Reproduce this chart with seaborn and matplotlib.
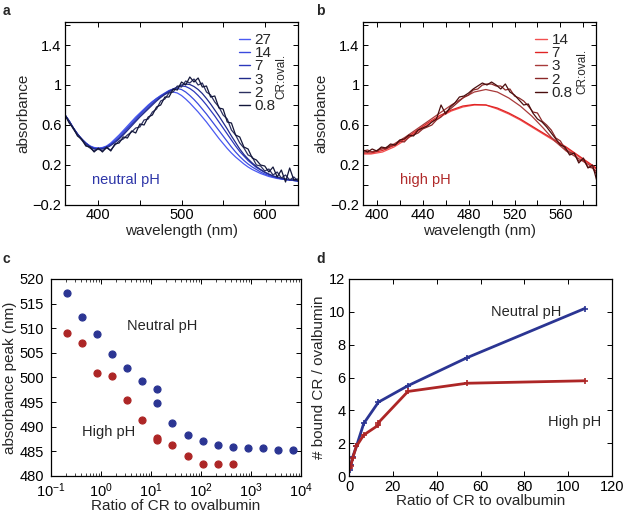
import numpy as np
import pandas as pd
import matplotlib
matplotlib.use("Agg")
import matplotlib.pyplot as plt
import seaborn as sns
from matplotlib.lines import Line2D

sns.set_theme(style="ticks")
plt.rcParams['font.family'] = ['Liberation Sans', 'DejaVu Sans']
plt.rcParams['axes.unicode_minus'] = True
plt.rcParams['mathtext.fontset'] = 'custom'
plt.rcParams['mathtext.rm'] = 'Liberation Sans'
plt.rcParams['mathtext.it'] = 'Liberation Sans'

# ---------------- panel a data (neutral pH spectra) ----------------
wl_a = [360, 365, 370, 375, 380, 385, 390, 395, 400, 405, 410, 415, 420, 425, 430, 435,
        440, 445, 450, 455, 460, 465, 470, 475, 480, 485, 490, 495, 500, 505, 510, 515,
        520, 525, 530, 535, 540, 545, 550, 555, 560, 565, 570, 575, 580, 585, 590, 595,
        600, 605, 610, 615, 620, 625, 630, 635, 640]
a_27 = [0.70, 0.64, 0.57, 0.51, 0.46, 0.42, 0.39, 0.375, 0.37, 0.375, 0.39, 0.42, 0.46, 0.50, 0.545, 0.59,
        0.635, 0.68, 0.72, 0.76, 0.80, 0.835, 0.865, 0.89, 0.91, 0.925, 0.93, 0.92, 0.895, 0.86, 0.82, 0.775,
        0.73, 0.68, 0.63, 0.575, 0.52, 0.465, 0.415, 0.365, 0.32, 0.28, 0.245, 0.21, 0.18, 0.155, 0.135, 0.115,
        0.10, 0.085, 0.075, 0.065, 0.06, 0.055, 0.05, 0.045, 0.04]
a_14 = [0.70, 0.64, 0.57, 0.51, 0.46, 0.42, 0.39, 0.37, 0.365, 0.37, 0.385, 0.41, 0.445, 0.485, 0.53, 0.575,
        0.62, 0.665, 0.71, 0.75, 0.79, 0.83, 0.865, 0.895, 0.92, 0.945, 0.96, 0.965, 0.955, 0.93, 0.895, 0.855,
        0.81, 0.76, 0.71, 0.655, 0.60, 0.545, 0.49, 0.435, 0.38, 0.33, 0.285, 0.245, 0.21, 0.18, 0.155, 0.13,
        0.11, 0.095, 0.08, 0.07, 0.06, 0.055, 0.05, 0.045, 0.04]
a_7 = [0.70, 0.64, 0.57, 0.51, 0.46, 0.42, 0.385, 0.365, 0.36, 0.365, 0.38, 0.405, 0.435, 0.47, 0.515, 0.56,
       0.605, 0.65, 0.695, 0.735, 0.775, 0.815, 0.85, 0.885, 0.915, 0.94, 0.96, 0.98, 0.99, 0.985, 0.965, 0.935,
       0.895, 0.85, 0.80, 0.745, 0.69, 0.63, 0.57, 0.51, 0.45, 0.39, 0.335, 0.29, 0.245, 0.21, 0.175, 0.15,
       0.125, 0.105, 0.09, 0.075, 0.065, 0.055, 0.05, 0.045, 0.04]
a_3 = [0.70, 0.64, 0.57, 0.51, 0.46, 0.415, 0.38, 0.36, 0.355, 0.36, 0.37, 0.395, 0.425, 0.46, 0.50, 0.545,
       0.59, 0.635, 0.68, 0.72, 0.76, 0.80, 0.84, 0.875, 0.905, 0.93, 0.955, 0.98, 1.0, 1.01, 1.005, 0.985,
       0.955, 0.915, 0.865, 0.81, 0.75, 0.69, 0.625, 0.56, 0.49, 0.425, 0.36, 0.305, 0.26, 0.22, 0.185, 0.155,
       0.13, 0.11, 0.09, 0.08, 0.07, 0.06, 0.055, 0.05, 0.045]
a_2 = [0.70, 0.63, 0.56, 0.50, 0.45, 0.40, 0.37, 0.34, 0.36, 0.34, 0.37, 0.35, 0.40, 0.44, 0.46, 0.50,
       0.53, 0.57, 0.58, 0.65, 0.66, 0.73, 0.76, 0.84, 0.86, 0.92, 0.93, 0.99, 0.98, 1.04, 1.02, 1.06,
       1.00, 1.02, 0.93, 0.90, 0.83, 0.78, 0.70, 0.66, 0.55, 0.50, 0.42, 0.37, 0.30, 0.28, 0.20, 0.19,
       0.14, 0.16, 0.10, 0.13, 0.07, 0.10, 0.05, 0.08, 0.04]
a_08 = [0.70, 0.62, 0.57, 0.49, 0.46, 0.39, 0.38, 0.33, 0.37, 0.33, 0.38, 0.34, 0.41, 0.42, 0.48, 0.47,
        0.54, 0.52, 0.61, 0.60, 0.68, 0.70, 0.78, 0.80, 0.88, 0.88, 0.96, 0.95, 1.03, 1.00, 1.08, 1.03,
        1.07, 0.98, 0.99, 0.88, 0.89, 0.77, 0.76, 0.63, 0.62, 0.50, 0.48, 0.38, 0.36, 0.27, 0.25, 0.20,
        0.19, 0.13, 0.18, 0.08, 0.15, 0.03, 0.17, 0.05, 0.06]
a_labels = ['27', '14', '7', '3', '2', '0.8']
a_colors = ['#4a5af2', '#3a4ade', '#2c38bc', '#202a8a', '#2c3060', '#12163a']

# ---------------- panel b data (high pH spectra) ----------------
wl_b_smooth = [385, 395, 405, 415, 425, 435, 445, 455, 465, 475, 485, 495, 505, 515, 525, 535,
               545, 555, 565, 575, 585, 595]
b_14 = [0.31, 0.31, 0.33, 0.38, 0.45, 0.53, 0.61, 0.68, 0.74, 0.78, 0.80, 0.80, 0.76, 0.71, 0.65, 0.58,
        0.51, 0.44, 0.37, 0.29, 0.21, 0.13]
b_7 = [0.32, 0.32, 0.345, 0.395, 0.465, 0.545, 0.625, 0.695, 0.75, 0.79, 0.805, 0.80, 0.77, 0.72, 0.66, 0.59,
       0.52, 0.45, 0.38, 0.30, 0.22, 0.14]
b_3 = [0.33, 0.33, 0.36, 0.41, 0.48, 0.56, 0.64, 0.72, 0.80, 0.87, 0.93, 0.955, 0.93, 0.87, 0.79, 0.69,
       0.57, 0.44, 0.34, 0.27, 0.20, 0.10]
wl_b_noisy = [388, 392, 396, 400, 404, 408, 412, 416, 420, 424, 428, 432, 436, 440, 444, 448,
              452, 456, 460, 464, 468, 472, 476, 480, 484, 488, 492, 496, 500, 504, 508, 512,
              516, 520, 524, 528, 532, 536, 540, 544, 548, 552, 556, 560, 564, 568, 572, 576,
              580, 584, 588, 592]
b_2 = [0.34, 0.35, 0.33, 0.34, 0.37, 0.36, 0.39, 0.40, 0.44, 0.43, 0.48, 0.50, 0.52, 0.56, 0.58, 0.60,
       0.65, 0.68, 0.73, 0.76, 0.80, 0.84, 0.88, 0.90, 0.95, 0.96, 1.00, 1.01, 1.01, 0.99, 0.99, 0.95,
       0.96, 0.89, 0.87, 0.84, 0.79, 0.73, 0.72, 0.64, 0.60, 0.55, 0.47, 0.44, 0.36, 0.33, 0.31, 0.24,
       0.25, 0.18, 0.17, 0.10]
b_08 = [0.35, 0.33, 0.36, 0.34, 0.38, 0.37, 0.41, 0.40, 0.45, 0.46, 0.50, 0.49, 0.55, 0.57, 0.59, 0.63,
        0.66, 0.80, 0.71, 0.78, 0.82, 0.88, 0.89, 0.92, 0.96, 0.99, 1.02, 1.00, 1.03, 1.00, 0.96, 1.01,
        0.93, 0.90, 0.85, 0.80, 0.81, 0.72, 0.66, 0.63, 0.58, 0.52, 0.46, 0.40, 0.38, 0.30, 0.32, 0.22,
        0.27, 0.17, 0.20, 0.03]
b_labels = ['14', '7', '3', '2', '0.8']
b_colors = ['#f25050', '#e02424', '#a83a3a', '#8a2828', '#4a0e0e']

# ---------------- panel c data (absorbance peak) ----------------
ratio_neutral = [0.21, 0.42, 0.84, 1.68, 3.36, 6.72, 13.44, 13.44, 26.88, 53.75, 107.5, 215, 430, 860,
                 1720, 3440, 6880]
peak_neutral = [517.2, 512.2, 508.9, 504.7, 501.9, 499.3, 497.7, 494.9, 490.8, 488.4, 487.1, 486.3,
                485.9, 485.7, 485.7, 485.2, 485.2]
ratio_high = [0.21, 0.42, 0.84, 1.68, 3.36, 6.72, 13.44, 13.44, 26.88, 53.75, 107.5, 215, 430]
peak_high = [509.0, 507.1, 501.0, 500.3, 495.5, 491.3, 487.8, 487.4, 486.3, 484.0, 482.5, 482.4, 482.5]

# ---------------- panel d data (bound CR) ----------------
ratio_d_neutral = [0.42, 0.84, 1.68, 3.36, 6.72, 13.44, 26.88, 53.75, 107.5]
bound_neutral = [0.38, 0.65, 1.15, 1.8, 3.2, 4.5, 5.5, 7.2, 10.2]
ratio_d_high = [0.42, 0.84, 1.68, 3.36, 6.72, 13.44, 13.44, 26.88, 53.75, 107.5]
bound_high = [0.5, 0.62, 1.1, 1.8, 2.5, 3.1, 3.25, 5.15, 5.65, 5.8]

BLUE = '#2b3593'
RED = '#ad2626'

fig = plt.figure(figsize=(6.25, 5.13), dpi=100)
W, H = 625.0, 513.0


def add_ax(l, t, r, b):
    return fig.add_axes([l / W, 1 - b / H, (r - l) / W, (b - t) / H])


ax_a = add_ax(65, 22, 298, 205)
ax_b = add_ax(363, 22, 596, 205)
ax_c = add_ax(51, 279, 301, 476)
ax_d = add_ax(349, 279, 612, 476)

TICK_FS = 10.5
LAB_FS = 11


def style(ax):
    for s in ax.spines.values():
        s.set_linewidth(0.9)
        s.set_color('black')
        s.set_visible(True)
    ax.tick_params(direction='in', top=True, right=True, length=3.5, width=0.7,
                   labelsize=TICK_FS, pad=2.5, colors='black')
    ax.tick_params(which='minor', direction='in', top=True, right=True, length=2, width=0.6)


# ---- panel a ----
series_a = [a_27, a_14, a_7, a_3, a_2, a_08]
for vals, lab, col in zip(series_a, a_labels, a_colors):
    sns.lineplot(x=wl_a, y=vals, ax=ax_a, color=col, lw=0.9, estimator=None, sort=False)
ax_a.set_xlim(360, 640)
ax_a.set_ylim(-0.2, 1.63)
ax_a.set_xticks([400, 450, 500, 550, 600])
ax_a.set_xticklabels(['400', '', '500', '', '600'])
ax_a.set_yticks([-0.2, 0, 0.2, 0.4, 0.6, 0.8, 1.0, 1.2, 1.4, 1.6])
ax_a.set_yticklabels(['\u22120.2', '', '0.2', '', '0.6', '', '1', '', '1.4', ''])
ax_a.set_xlabel('wavelength (nm)', fontsize=LAB_FS, labelpad=1)
ax_a.set_ylabel('absorbance', fontsize=LAB_FS, labelpad=2)
style(ax_a)
h_a = [Line2D([], [], color=c, lw=1.0) for c in a_colors]
ax_a.legend(h_a, a_labels, loc='upper left', bbox_to_anchor=(0.745, 0.94), frameon=False,
            handlelength=0.75, handletextpad=0.3, labelspacing=-0.05, fontsize=11, borderaxespad=0,
            borderpad=0)
ax_a.text(0.93, 0.70, 'CR:oval.', transform=ax_a.transAxes, rotation=90, fontsize=8.5,
          ha='center', va='center')
ax_a.text(392, 0.05, 'neutral pH', color='#2d35a8', fontsize=10.5, ha='left', va='center')

# ---- panel b ----
for vals, col in zip([b_14, b_7, b_3], b_colors[:3]):
    sns.lineplot(x=wl_b_smooth, y=vals, ax=ax_b, color=col, lw=0.9, estimator=None, sort=False)
for vals, col in zip([b_2, b_08], b_colors[3:]):
    sns.lineplot(x=wl_b_noisy, y=vals, ax=ax_b, color=col, lw=0.9, estimator=None, sort=False)
ax_b.set_xlim(388, 591)
ax_b.set_ylim(-0.2, 1.63)
ax_b.set_xticks(list(range(400, 581, 20)))
ax_b.set_xticklabels([str(v) if (v - 400) % 40 == 0 else '' for v in range(400, 581, 20)])
ax_b.set_yticks([-0.2, 0, 0.2, 0.4, 0.6, 0.8, 1.0, 1.2, 1.4, 1.6])
ax_b.set_yticklabels(['\u22120.2', '', '0.2', '', '0.6', '', '1', '', '1.4', ''])
ax_b.set_xlabel('wavelength (nm)', fontsize=LAB_FS, labelpad=1)
ax_b.set_ylabel('absorbance', fontsize=LAB_FS, labelpad=2)
style(ax_b)
h_b = [Line2D([], [], color=c, lw=1.0) for c in b_colors]
ax_b.legend(h_b, b_labels, loc='upper left', bbox_to_anchor=(0.74, 0.94), frameon=False,
            handlelength=0.75, handletextpad=0.3, labelspacing=-0.05, fontsize=11, borderaxespad=0,
            borderpad=0)
ax_b.text(0.94, 0.73, 'CR:oval.', transform=ax_b.transAxes, rotation=90, fontsize=8.5,
          ha='center', va='center')
ax_b.text(420, 0.05, 'high pH', color='#b02a2a', fontsize=10.5, ha='left', va='center')

# ---- panel c ----
sns.scatterplot(x=ratio_neutral, y=peak_neutral, ax=ax_c, color=BLUE, s=26, marker='o',
                edgecolor=BLUE, linewidth=0.8, zorder=3)
sns.scatterplot(x=ratio_high, y=peak_high, ax=ax_c, color=RED, s=26, marker='o',
                edgecolor=RED, linewidth=0.8, zorder=3)
ax_c.set_xscale('log')
ax_c.set_xlim(0.1, 1e4)
ax_c.set_ylim(480, 520)
ax_c.set_yticks(list(range(480, 521, 5)))
ax_c.set_xlabel('Ratio of CR to ovalbumin', fontsize=LAB_FS, labelpad=-1)
ax_c.set_ylabel('absorbance peak (nm)', fontsize=LAB_FS, labelpad=2)
style(ax_c)
ax_c.tick_params(axis='x', pad=4)
ax_c.tick_params(axis='y', pad=5)
ax_c.text(17, 510.4, 'Neutral pH', fontsize=10.5, ha='center', va='center')
ax_c.text(1.42, 489, 'High pH', fontsize=10.5, ha='center', va='center')

# ---- panel d ----
sns.lineplot(x=ratio_d_neutral, y=bound_neutral, ax=ax_d, color=BLUE, lw=2.0, marker='+',
             markersize=4, markeredgewidth=1.2, markeredgecolor=BLUE, estimator=None, sort=False)
sns.lineplot(x=ratio_d_high, y=bound_high, ax=ax_d, color=RED, lw=2.0, marker='+',
             markersize=4, markeredgewidth=1.2, markeredgecolor=RED, estimator=None, sort=False)
ax_d.set_xlim(0, 120)
ax_d.set_ylim(0, 12)
ax_d.set_xticks(list(range(0, 121, 20)))
ax_d.set_yticks(list(range(0, 13, 2)))
ax_d.set_xlabel('Ratio of CR to ovalbumin', fontsize=LAB_FS, labelpad=0)
ax_d.set_ylabel('# bound CR / ovalbumin', fontsize=LAB_FS, labelpad=2)
style(ax_d)
ax_d.tick_params(axis='x', pad=3)
ax_d.text(81, 10.0, 'Neutral pH', fontsize=10.5, ha='center', va='center')
ax_d.text(103, 3.3, 'High pH', fontsize=10.5, ha='center', va='center')

# panel letters
for lab, x, y in [('a', 3, 4), ('b', 316, 4), ('c', 3, 252), ('d', 316, 252)]:
    fig.text(x / W, 1 - y / H, lab, fontsize=10, fontweight='bold', ha='left', va='top')

fig.savefig('out.png', dpi=100)
